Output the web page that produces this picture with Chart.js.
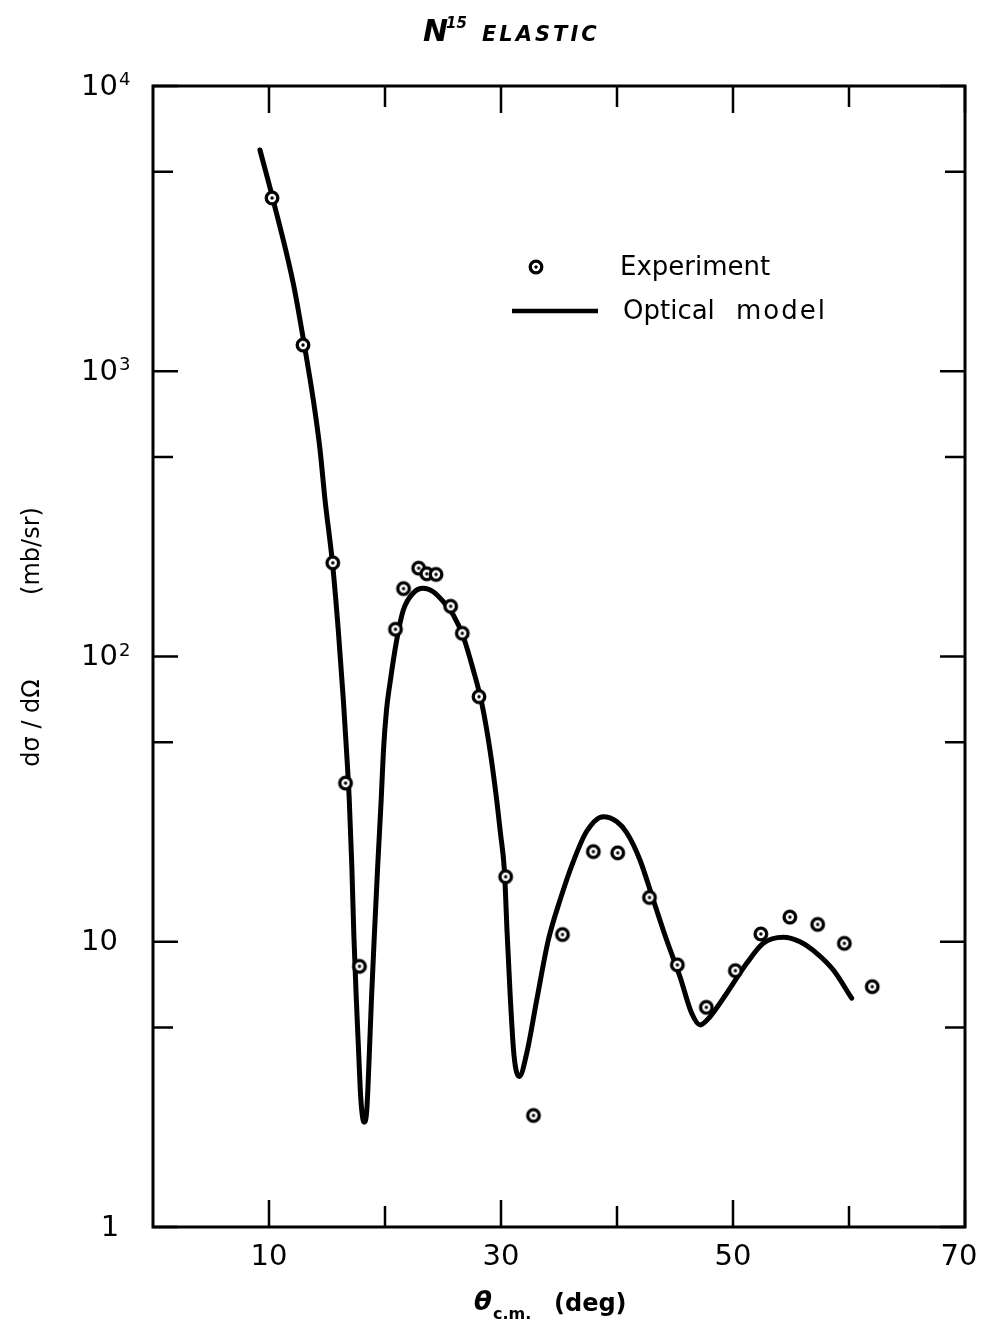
<!DOCTYPE html>
<html><head><meta charset="utf-8">
<style>html,body{margin:0;padding:0;background:#fff}#wrap{width:988px;height:1334px;position:relative}</style>
<script src="https://cdn.jsdelivr.net/npm/chart.js@4.4.1/dist/chart.umd.min.js"></script>
</head><body><div id="wrap"><canvas id="c" width="988" height="1334"></canvas></div>
<script>
// Experimental points: angle (deg, c.m.) and cross-section (mb/sr)
const expAngle = [10.26, 12.93, 15.5, 16.6, 17.8, 20.9, 21.6, 22.9, 23.6, 24.4, 25.66, 26.66, 28.1, 30.4, 32.8, 35.3, 37.96, 40.06, 42.8, 45.2, 47.7, 50.2, 52.4, 54.9, 57.3, 59.6, 62.0];
const expSigma = [4050, 1236, 213, 36, 8.2, 124.6, 173, 204, 195, 194, 150, 120.6, 72.3, 16.9, 2.46, 10.6, 20.7, 20.5, 14.3, 8.3, 5.89, 7.92, 10.65, 12.2, 11.5, 9.87, 6.96];

// Optical model curve
const modelAngle = [9.22, 10.32, 12.09, 13.02, 13.82, 14.40, 14.83, 15.47, 15.99, 16.41, 16.68, 16.92, 17.14, 17.31, 17.53, 17.72, 17.87, 18.02, 18.19, 18.41, 18.52, 18.66, 18.83, 19.09, 19.37, 19.67, 19.87, 20.13, 20.43, 21.01, 21.58, 22.44, 23.30, 24.16, 25.03, 25.89, 26.75, 27.61, 28.34, 29.05, 29.63, 29.95, 30.30, 30.52, 30.80, 31.12, 31.58, 32.22, 33.08, 34.08, 35.09, 36.23, 37.39, 38.82, 39.97, 40.84, 41.98, 43.13, 44.28, 45.43, 46.44, 47.16, 48.02, 49.46, 51.18, 52.61, 54.34, 55.78, 57.22, 58.65, 60.23];
const modelSigma = [5965, 4040, 2034, 1253, 793, 530, 354, 213, 121, 70.4, 47.0, 31.4, 18.4, 10.7, 6.25, 4.17, 3.02, 2.51, 2.33, 2.51, 3.02, 4.17, 6.25, 10.7, 18.4, 31.4, 47.0, 64.9, 80.7, 114.3, 145.5, 167, 173.4, 168.7, 155.6, 139.8, 117.3, 89.7, 68.7, 47.0, 31.4, 24.1, 17.6, 10.9, 6.4, 4.0, 3.37, 4.07, 6.25, 10.14, 14.0, 19.1, 24.4, 27.45, 26.4, 24.1, 19.35, 14.0, 10.14, 7.54, 5.61, 5.11, 5.46, 6.60, 8.40, 9.88, 10.37, 10.0, 9.11, 7.96, 6.34];

// Axis ticks
const xLabelTicks = [10, 30, 50, 70];
const xMinorTicks = [20, 40, 60];
const yMajorTicks = [1, 10, 100, 1000, 10000];
const yMinorTicks = [5, 50, 500, 5000];
const yTickBase = ['1', '10', '10', '10', '10'];
const yTickExp = ['', '', '2', '3', '4'];

const titleMain = 'N';
const titleSup = '15';
const titleRest = 'ELASTIC';
const xTitleSym = 'θ';
const xTitleSub = 'c.m.';
const xTitleUnit = '(deg)';
const yTitleA = 'dσ / dΩ';
const yTitleB = '(mb/sr)';
const legendExp = 'Experiment';
const legendModelA = 'Optical';
const legendModelB = 'model';

function ringMarker() {
  const c = document.createElement('canvas');
  c.width = 20; c.height = 20;
  const g = c.getContext('2d');
  g.beginPath(); g.arc(10, 10, 5.8, 0, Math.PI * 2);
  g.fillStyle = '#fff'; g.fill();
  g.lineWidth = 3.3; g.strokeStyle = '#000'; g.stroke();
  g.beginPath(); g.arc(10, 10, 1.7, 0, Math.PI * 2);
  g.fillStyle = '#000'; g.fill();
  return c;
}
const marker = ringMarker();

const FONT = '"DejaVu Sans", sans-serif';

const decor = {
  id: 'decor',
  afterDraw(chart) {
    const ctx = chart.ctx;
    const xs = chart.scales.x, ys = chart.scales.y;
    const a = chart.chartArea;
    ctx.save();
    ctx.strokeStyle = '#000';
    ctx.fillStyle = '#000';
    // frame
    ctx.lineWidth = 3;
    ctx.strokeRect(a.left, a.top, a.right - a.left, a.bottom - a.top);
    // x ticks (bottom and top)
    ctx.lineWidth = 2.5;
    const tickX = (v, len) => {
      const p = xs.getPixelForValue(v);
      ctx.beginPath();
      ctx.moveTo(p, a.bottom); ctx.lineTo(p, a.bottom - len);
      ctx.moveTo(p, a.top); ctx.lineTo(p, a.top + len);
      ctx.stroke();
    };
    xLabelTicks.forEach(v => tickX(v, 27));
    xMinorTicks.forEach(v => tickX(v, 21));
    const tickY = (v, len) => {
      const p = ys.getPixelForValue(v);
      ctx.beginPath();
      ctx.moveTo(a.left, p); ctx.lineTo(a.left + len, p);
      ctx.moveTo(a.right, p); ctx.lineTo(a.right - len, p);
      ctx.stroke();
    };
    yMajorTicks.forEach(v => tickY(v, 25));
    yMinorTicks.forEach(v => tickY(v, 20));
    // x tick labels
    ctx.font = '29px ' + FONT;
    ctx.textAlign = 'center';
    ctx.textBaseline = 'middle';
    xLabelTicks.forEach(v => {
      ctx.fillText(String(v), xs.getPixelForValue(v) - (v === 70 ? 6 : 0), 1257);
    });
    // y tick labels
    yMajorTicks.forEach((v, i) => {
      const p = ys.getPixelForValue(v);
      ctx.font = '29px ' + FONT;
      ctx.textBaseline = 'middle';
      if (yTickBase[i] === '1') {
        ctx.textAlign = 'center';
        ctx.fillText('1', 110, p + 1);
      } else {
        ctx.textAlign = 'left';
        ctx.fillText(yTickBase[i], 81, p + 1);
        if (yTickExp[i]) {
          ctx.font = '18px ' + FONT;
          ctx.textBaseline = 'alphabetic';
          ctx.fillText(yTickExp[i], 119, p - 1);
        }
      }
    });
    // x title
    ctx.textBaseline = 'alphabetic';
    ctx.textAlign = 'left';
    ctx.font = 'italic bold 26px ' + FONT;
    ctx.fillText(xTitleSym, 474, 1310);
    ctx.font = 'bold 16px ' + FONT;
    ctx.fillText(xTitleSub, 493, 1319);
    ctx.font = 'bold 24px ' + FONT;
    ctx.fillText(xTitleUnit, 554, 1311);
    // y title (rotated)
    ctx.save();
    ctx.translate(39, 0);
    ctx.rotate(-Math.PI / 2);
    ctx.textAlign = 'center';
    ctx.font = '24px ' + FONT;
    ctx.fillText(yTitleA, -723, 0);
    ctx.fillText(yTitleB, -551, 0);
    ctx.restore();
    // title (handwritten in original)
    ctx.font = 'italic bold 30px ' + FONT;
    ctx.textAlign = 'left';
    ctx.fillText(titleMain, 423, 41);
    ctx.font = 'italic bold 15px ' + FONT;
    ctx.fillText(titleSup, 446, 28);
    ctx.font = 'italic bold 21px ' + FONT;
    ctx.letterSpacing = '3px';
    ctx.fillText(titleRest, 482, 41);
    ctx.letterSpacing = '0px';
    // legend
    ctx.drawImage(marker, 536 - 10, 267 - 10);
    ctx.lineWidth = 4.5;
    ctx.beginPath(); ctx.moveTo(512, 311); ctx.lineTo(598, 311); ctx.stroke();
    ctx.font = '26px ' + FONT;
    ctx.textBaseline = 'middle';
    ctx.textAlign = 'left';
    ctx.fillText(legendExp, 620, 268);
    ctx.fillText(legendModelA, 623, 312);
    ctx.letterSpacing = '2px';
    ctx.fillText(legendModelB, 736, 312);
    ctx.letterSpacing = '0px';
    ctx.restore();
  }
};

new Chart(document.getElementById('c'), {
  type: 'scatter',
  data: {
    datasets: [
      {
        label: 'Experiment',
        data: expAngle.map((x, i) => ({ x, y: expSigma[i] })),
        pointStyle: marker,
        pointRadius: 7,
        order: 0
      },
      {
        label: 'Optical model',
        data: modelAngle.map((x, i) => ({ x, y: modelSigma[i] })),
        showLine: true,
        borderColor: '#000',
        borderWidth: 5,
        pointRadius: 0,
        cubicInterpolationMode: 'monotone',
        borderJoinStyle: 'round',
        borderCapStyle: 'round',
        fill: false,
        order: 1
      }
    ]
  },
  options: {
    responsive: false,
    devicePixelRatio: 1,
    animation: false,
    layout: { padding: { left: 153, right: 23, top: 86, bottom: 107 } },
    plugins: { legend: { display: false }, tooltip: { enabled: false } },
    scales: {
      x: { type: 'linear', min: 0, max: 70, display: false },
      y: { type: 'logarithmic', min: 1, max: 10000, display: false }
    }
  },
  plugins: [decor]
});
</script>
</body></html>
